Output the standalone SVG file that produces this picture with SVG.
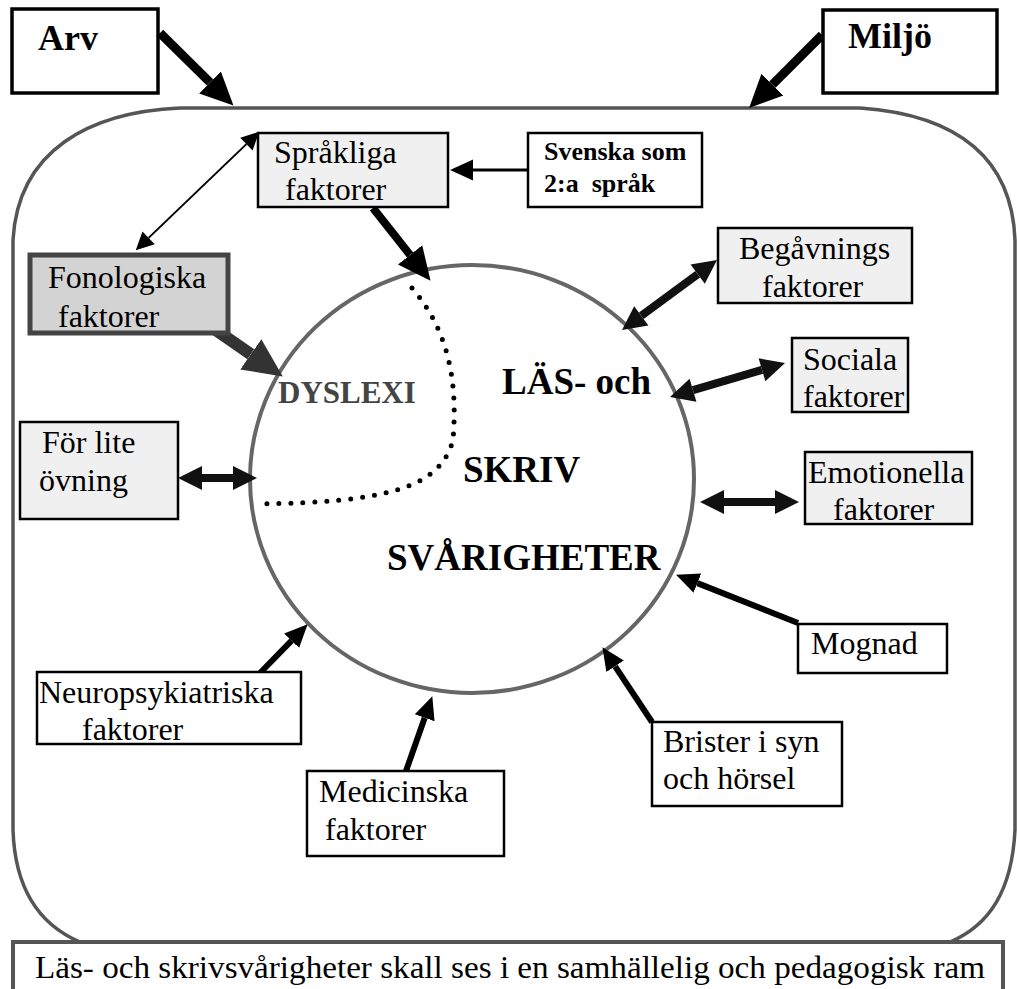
<svg xmlns="http://www.w3.org/2000/svg" width="1017" height="989" viewBox="0 0 1017 989">
<style>
.box{fill:#fff;stroke:#000;stroke-width:2.5}
.gbox{fill:#f0f0f0;stroke:#000;stroke-width:2.5}
.a{stroke:#000;fill:none}
</style>
<defs>
<marker id="hBig" markerUnits="userSpaceOnUse" markerWidth="34" markerHeight="34" viewBox="0 -16 33 32" refX="0" refY="0" orient="auto-start-reverse"><path d="M0,-15 L32,0 L0,15 z" fill="#000"/></marker>
<marker id="hFon" markerUnits="userSpaceOnUse" markerWidth="40" markerHeight="40" viewBox="0 -19 39 38" refX="0" refY="0" orient="auto"><path d="M0,-18 L38,0 L0,18 z" fill="#333"/></marker>
<marker id="hMed" markerUnits="userSpaceOnUse" markerWidth="26" markerHeight="26" viewBox="0 -13 25 26" refX="0" refY="0" orient="auto-start-reverse"><path d="M0,-12 L24,0 L0,12 z" fill="#111"/></marker>
<marker id="hSm" markerUnits="userSpaceOnUse" markerWidth="24" markerHeight="24" viewBox="0 -11 23 22" refX="0" refY="0" orient="auto"><path d="M0,-10 L22,0 L0,10 z" fill="#000"/></marker>
<marker id="hThin" markerUnits="userSpaceOnUse" markerWidth="20" markerHeight="20" viewBox="0 -9 17 18" refX="0" refY="0" orient="auto-start-reverse"><path d="M0,-8 L16,0 L0,8 z" fill="#000"/></marker>
</defs>
<rect width="1017" height="989" fill="#fff"/>

<g id="frame">
<path d="M80,942 C40,925 15,890 13,830 L13,240 C18,150 90,112 180,108 L860,108 C960,115 1012,160 1015,240 L1015,830 C1012,890 990,925 950,942" fill="none" stroke="#555" stroke-width="3.5"/>
</g>

<g id="circle">
<ellipse cx="472" cy="479" rx="222" ry="214" fill="none" stroke="#666" stroke-width="4"/>
<path d="M412,288 C448,330 458,380 453,440 C440,490 380,502 260,504" fill="none" stroke="#000" stroke-width="5" stroke-linecap="round" stroke-dasharray="0 12"/>
<text font-family="Liberation Serif" x="278" y="403" font-weight="bold" font-size="31" fill="#444">DYSLEXI</text>
<text font-family="Liberation Serif" x="502" y="394" font-weight="bold" font-size="37">LÄS- och</text>
<text font-family="Liberation Serif" x="463" y="482" font-weight="bold" font-size="37">SKRIV</text>
<text font-family="Liberation Serif" x="387" y="570" font-weight="bold" font-size="37">SVÅRIGHETER</text>
</g>

<g id="connectors">
<line class="a" x1="160" y1="33" x2="210" y2="82.4" stroke-width="9" marker-end="url(#hBig)"/>
<line class="a" x1="822" y1="35" x2="772.4" y2="84.6" stroke-width="9" marker-end="url(#hBig)"/>
<line class="a" x1="373" y1="208" x2="410.1" y2="254.9" stroke-width="8" marker-end="url(#hBig)"/>
<line x1="213" y1="328" x2="250.8" y2="354.3" stroke="#333" stroke-width="12" marker-end="url(#hFon)"/>
<line class="a" x1="528" y1="170" x2="473" y2="170" stroke-width="3" marker-end="url(#hSm)"/>
<line class="a" x1="246.4" y1="144.1" x2="148.6" y2="237.9" stroke-width="2" marker-start="url(#hThin)" marker-end="url(#hThin)"/>
<line x1="697.7" y1="274.2" x2="641.3" y2="315.8" stroke="#111" stroke-width="8" marker-start="url(#hMed)" marker-end="url(#hMed)"/>
<line x1="762" y1="369.8" x2="693" y2="390.2" stroke="#111" stroke-width="8" marker-start="url(#hMed)" marker-end="url(#hMed)"/>
<line x1="724" y1="502" x2="775" y2="502" stroke="#111" stroke-width="8" marker-start="url(#hMed)" marker-end="url(#hMed)"/>
<line x1="202" y1="478" x2="233" y2="478" stroke="#111" stroke-width="8" marker-start="url(#hMed)" marker-end="url(#hMed)"/>
<line class="a" x1="798" y1="623" x2="697.4" y2="583.1" stroke-width="6" marker-end="url(#hSm)"/>
<line class="a" x1="652" y1="722" x2="615.1" y2="666.3" stroke-width="6" marker-end="url(#hSm)"/>
<line class="a" x1="260" y1="673" x2="291.6" y2="640.7" stroke-width="6" marker-end="url(#hSm)"/>
<line class="a" x1="406" y1="771" x2="424.7" y2="717.8" stroke-width="6" marker-end="url(#hSm)"/>
</g>

<g id="arv">
<rect x="12" y="9" width="146" height="84" fill="#fff" stroke="#000" stroke-width="3.5"/>
<text font-family="Liberation Serif" x="38" y="50" font-weight="bold" font-size="36">Arv</text>
</g>
<g id="miljo">
<rect x="823" y="10" width="174" height="83" fill="#fff" stroke="#000" stroke-width="3.5"/>
<text font-family="Liberation Serif" x="848" y="48" font-weight="bold" font-size="36">Miljö</text>
</g>
<g id="sprakliga">
<rect class="gbox" x="258" y="133" width="190" height="74"/>
<text font-family="Liberation Serif" font-size="32" x="274" y="163">Språkliga</text>
<text font-family="Liberation Serif" font-size="32" x="285" y="200">faktorer</text>
</g>
<g id="svenska">
<rect class="box" x="528" y="133" width="174" height="74"/>
<text font-family="Liberation Serif" x="544" y="160" font-weight="bold" font-size="26">Svenska som</text>
<text font-family="Liberation Serif" x="544" y="192" font-weight="bold" font-size="26" xml:space="preserve">2:a  språk</text>
</g>
<g id="fonologiska">
<rect x="30" y="255" width="198" height="78" fill="#d3d3d3" stroke="#444" stroke-width="5"/>
<text font-family="Liberation Serif" font-size="32" x="48" y="288">Fonologiska</text>
<text font-family="Liberation Serif" font-size="32" x="58" y="327">faktorer</text>
</g>
<g id="forlite">
<rect class="gbox" x="20" y="422" width="158" height="97"/>
<text font-family="Liberation Serif" font-size="32" x="42" y="453">För lite</text>
<text font-family="Liberation Serif" font-size="32" x="39" y="491">övning</text>
</g>
<g id="begavnings">
<rect class="gbox" x="718" y="228" width="194" height="75"/>
<text font-family="Liberation Serif" font-size="32" x="739" y="259">Begåvnings</text>
<text font-family="Liberation Serif" font-size="32" x="762" y="297">faktorer</text>
</g>
<g id="sociala">
<rect class="gbox" x="792" y="338" width="116" height="74"/>
<text font-family="Liberation Serif" font-size="32" x="803" y="370">Sociala</text>
<text font-family="Liberation Serif" font-size="32" x="803" y="407">faktorer</text>
</g>
<g id="emotionella">
<rect class="gbox" x="805" y="452" width="167" height="72"/>
<text font-family="Liberation Serif" font-size="32" x="808" y="483">Emotionella</text>
<text font-family="Liberation Serif" font-size="32" x="833" y="520">faktorer</text>
</g>
<g id="mognad">
<rect class="box" x="798" y="624" width="149" height="49"/>
<text font-family="Liberation Serif" font-size="32" x="811" y="654">Mognad</text>
</g>
<g id="brister">
<rect class="box" x="652" y="722" width="190" height="84"/>
<text font-family="Liberation Serif" font-size="32" x="663" y="752">Brister i syn</text>
<text font-family="Liberation Serif" font-size="32" x="663" y="789">och hörsel</text>
</g>
<g id="neuro">
<rect class="box" x="37" y="672" width="264" height="72"/>
<text font-family="Liberation Serif" font-size="32" x="39" y="703">Neuropsykiatriska</text>
<text font-family="Liberation Serif" font-size="32" x="82" y="740">faktorer</text>
</g>
<g id="medicinska">
<rect class="box" x="307" y="771" width="197" height="85"/>
<text font-family="Liberation Serif" font-size="32" x="319" y="802">Medicinska</text>
<text font-family="Liberation Serif" font-size="32" x="325" y="840">faktorer</text>
</g>
<g id="bottom">
<rect x="13" y="942" width="990" height="60" fill="#fff" stroke="#555" stroke-width="4"/>
<text font-family="Liberation Serif" x="35" y="978" font-size="32" textLength="950" lengthAdjust="spacingAndGlyphs">Läs- och skrivsvårigheter skall ses i en samhällelig och pedagogisk ram</text>
</g>
</svg>
